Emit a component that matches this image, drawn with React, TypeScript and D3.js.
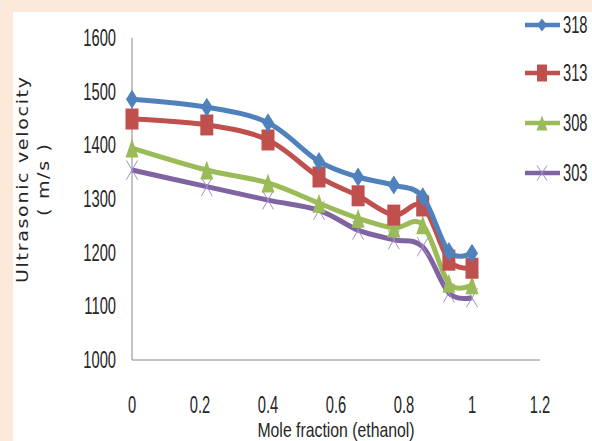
import * as d3 from "d3";
import { useEffect, useRef } from "react";

const moleFraction = [0, 0.22, 0.4, 0.55, 0.665, 0.77, 0.855, 0.932, 1];
const v318 = [1486, 1471, 1442, 1370, 1341, 1326, 1304, 1202, 1199];
const v313 = [1449, 1438, 1410, 1341, 1306, 1270, 1287, 1186, 1171];
const v308 = [1395, 1354, 1330, 1292, 1264, 1246, 1252, 1143, 1140];
const v303 = [1354, 1323, 1298, 1279, 1242, 1224, 1211, 1125, 1116];
const seriesNames = ["318", "313", "308", "303"];
const xTicks = [0, 0.2, 0.4, 0.6, 0.8, 1, 1.2];
const yTicks = [1000, 1100, 1200, 1300, 1400, 1500, 1600];

const colors = ["#4f81bd", "#c0504d", "#9bbb59", "#8064a2"];
const markers = ["diamond", "square", "triangle", "x"];

const W = 592;
const H = 441;
const FONT = "'Liberation Sans', Arial, sans-serif";

function markerPath(kind: string, hw: number, hh: number) {
  switch (kind) {
    case "diamond":
      return `M0,${-hh}L${hw},0L0,${hh}L${-hw},0Z`;
    case "square":
      return `M${-hw},${-hh}H${hw}V${hh}H${-hw}Z`;
    case "triangle":
      return `M0,${-hh}L${hw},${hh}H${-hw}Z`;
    default:
      return `M${-hw},${-hh}L${hw},${hh}M${hw},${-hh}L${-hw},${hh}`;
  }
}

export default function App() {
  const ref = useRef<SVGSVGElement>(null);

  useEffect(() => {
    document.body.style.margin = "0";
    if (!ref.current) return;
    const svg = d3.select(ref.current);
    svg.selectAll("*").remove();

    svg.append("rect").attr("width", W).attr("height", H).attr("fill", "#fde9d9");
    svg.append("rect").attr("x", 13).attr("y", 12).attr("width", W - 13).attr("height", H - 12).attr("fill", "#fff");

    const x = d3.scaleLinear().domain([0, 1.2]).range([132, 540]);
    const y = d3.scaleLinear().domain([1000, 1600]).range([360, 38]);

    // axes
    svg.append("line").attr("x1", x(0)).attr("x2", x(0)).attr("y1", y(1600)).attr("y2", y(1000))
      .attr("stroke", "#868686").attr("stroke-width", 1);
    svg.append("line").attr("x1", x(0)).attr("x2", x(1.2)).attr("y1", y(1000)).attr("y2", y(1000))
      .attr("stroke", "#868686").attr("stroke-width", 1);

    // the source picture is squeezed sideways, so text is too
    const label = (tx: number, ty: number, text: string, anchor: string, size = 23, sx = 0.64) =>
      svg.append("text")
        .attr("transform", `translate(${tx},${ty}) scale(${sx},1)`)
        .attr("text-anchor", anchor)
        .style("font-family", FONT)
        .style("font-size", `${size}px`)
        .attr("fill", "#262626")
        .text(text);

    yTicks.forEach((t) => label(116, y(t) + 8, String(t), "end"));
    xTicks.forEach((t) => label(x(t), 413, d3.format(".1~f")(t), "middle"));
    label(336, 436.5, "Mole fraction (ethanol)", "middle", 20, 0.79);

    // y title
    const sy = 0.85;
    const yt = svg.append("g").attr("transform", `translate(0,180) rotate(-90) scale(1,${sy})`);
    yt.append("text").attr("x", 0).attr("y", 28 / sy).attr("text-anchor", "middle")
      .attr("textLength", 206).attr("lengthAdjust", "spacing")
      .style("font-family", "'DejaVu Sans', Verdana, sans-serif").style("font-size", "19px")
      .attr("fill", "#262626").text("Ultrasonic velocity");
    yt.append("text").attr("x", 0).attr("y", 49 / sy).attr("text-anchor", "middle")
      .attr("textLength", 72).attr("lengthAdjust", "spacing")
      .style("font-family", "'DejaVu Sans', Verdana, sans-serif").style("font-size", "19px")
      .attr("fill", "#262626").text("( m/s )");

    const allSeries = [v318, v313, v308, v303];
    const line = d3.line<number>()
      .x((_, i) => x(moleFraction[i]))
      .y((d) => y(d))
      .curve(d3.curveCardinal.tension(0));

    const plotSizes: Record<string, [number, number]> = {
      diamond: [6, 9.5], square: [6.5, 10.5], triangle: [6.5, 9.5], x: [5.5, 9.5],
    };
    // draw bottom series first so 318 sits on top
    [3, 2, 1, 0].forEach((s) => {
      const vals = allSeries[s];
      svg.append("path").attr("d", line(vals)).attr("fill", "none")
        .attr("stroke", colors[s]).attr("stroke-width", 5).attr("stroke-linejoin", "round");
      const kind = markers[s];
      const [hw, hh] = plotSizes[kind];
      svg.append("g").selectAll("path").data(vals).join("path")
        .attr("transform", (d, i) => `translate(${x(moleFraction[i])},${y(d)})`)
        .attr("d", markerPath(kind, hw, hh))
        .attr("fill", kind === "x" ? "none" : colors[s])
        .attr("stroke", kind === "x" ? "#a08ec8" : "none")
        .attr("stroke-width", 1);
    });

    // legend
    const legendY = [25, 73, 123, 173];
    const legendSizes: Record<string, [number, number]> = {
      diamond: [5, 6.5], square: [5, 8.5], triangle: [5.5, 7.5], x: [5, 7.5],
    };
    seriesNames.forEach((name, s) => {
      const g = svg.append("g").attr("transform", `translate(0,${legendY[s]})`);
      g.append("line").attr("x1", 525).attr("x2", 560).attr("y1", 0).attr("y2", 0)
        .attr("stroke", colors[s]).attr("stroke-width", 4.5);
      const kind = markers[s];
      const [hw, hh] = legendSizes[kind];
      g.append("path").attr("transform", "translate(542,0)")
        .attr("d", markerPath(kind, hw, hh))
        .attr("fill", kind === "x" ? "none" : colors[s])
        .attr("stroke", kind === "x" ? "#a08ec8" : "none").attr("stroke-width", 1);
      g.append("text")
        .attr("transform", "translate(563,8) scale(0.64,1)")
        .style("font-family", FONT).style("font-size", "23px").attr("fill", "#262626")
        .text(name);
    });
  }, []);

  return <svg ref={ref} width={W} height={H} style={{ display: "block" }} />;
}
